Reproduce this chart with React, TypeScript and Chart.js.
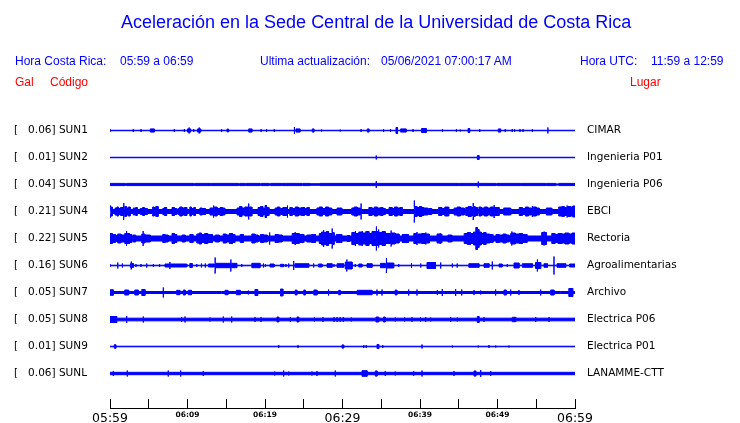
import React, { useEffect, useRef } from 'react';
import { Chart, registerables } from 'chart.js';

Chart.register(...registerables);

// ---------- data ----------
const CODES = ['SUN1', 'SUN2', 'SUN3', 'SUN4', 'SUN5', 'SUN6', 'SUN7', 'SUN8', 'SUN9', 'SUNL'];
const PEAK_GAL = [0.06, 0.01, 0.04, 0.21, 0.22, 0.16, 0.05, 0.05, 0.01, 0.06];
const PLACES = ['CIMAR', 'Ingenieria P01', 'Ingenieria P06', 'EBCI', 'Rectoria', 'Agroalimentarias', 'Archivo', 'Electrica P06', 'Electrica P01', 'LANAMME-CTT'];

// minutes after 05:59
const TICK_MINUTES = [0, 5, 10, 15, 20, 25, 30, 35, 40, 45, 50, 55, 60];
const TIME_LABELS = ['05:59', '06:09', '06:19', '06:29', '06:39', '06:49', '06:59'];

// background noise half-amplitude of every trace (relative units, 27 units = trace spacing)
const BASE_NOISE = [0.25, 0.25, 1.1, 2.0, 2.5, 0.3, 1.0, 1.35, 0.3, 1.2];

// events: [start minute, end minute, half-amplitude]
const SUN1_EVENTS = [[0, 0, 1.5], [3.0, 3.0, 1.5], [4.0, 4.0, 1.5], [5.2, 5.7, 1.6], [8.3, 8.3, 1.5], [9.6, 9.6, 1.5], [10.0, 10.2, 1.6], [10.2, 10.2, 3], [10.25, 10.4, 1.6], [10.8, 10.8, 1.5], [11.3, 11.5, 1.6], [11.5, 11.5, 3], [11.55, 11.7, 1.6], [14.4, 14.4, 1.5], [15.1, 15.3, 1.4], [17.9, 18.3, 1.6], [19.5, 19.5, 1.5], [20.2, 20.2, 1.5], [21.2, 21.2, 1.5], [23.8, 23.8, 3.5], [24.0, 24.5, 1.6], [26.1, 26.3, 1.6], [27.3, 27.3, 1], [29.7, 29.7, 1], [32.4, 32.4, 1.5], [33.2, 33.4, 1.6], [35.3, 35.3, 1.5], [36.2, 36.2, 1.5], [36.9, 37.1, 3], [37.5, 38.2, 1.6], [39.1, 39.1, 1.5], [40.2, 40.8, 2], [42.9, 42.9, 1.5], [44.7, 44.7, 1.5], [45.2, 45.2, 1], [46.2, 46.4, 2], [47.7, 47.7, 1.5], [50.1, 50.4, 1.6], [51.0, 51.0, 1.5], [51.9, 51.9, 1.5], [52.2, 52.2, 1.5], [52.9, 52.9, 1.5], [53.3, 53.3, 1.5], [54.5, 54.5, 1.5], [56.5, 56.5, 3]];
const SUN2_EVENTS = [[34.36, 34.36, 2], [47.4, 47.6, 2]];
const SUN3_EVENTS = [[1.94, 2.1, 0.6], [10.75, 10.9, 0.6], [13.0, 13.1, 0.6], [16.55, 16.7, 0.6], [17.4, 17.5, 0.6], [19.35, 19.5, 0.6], [20.5, 20.7, 0.6], [22.1, 22.2, 0.6], [24.77, 24.9, 0.6], [25.85, 27.1, 0.8], [34.36, 34.36, 3.5], [45.0, 45.1, 0.6], [47.52, 47.52, 3], [49.77, 49.9, 0.6], [53.0, 53.1, 0.6], [56.2, 56.3, 0.6], [57.5, 57.9, 0.6]];
const SUN4_EVENTS = [[0, 0.1, 6], [0.1, 0.3, 4.5], [0.65, 0.9, 3.5], [0.9, 1.1, 4.5], [1.1, 1.35, 3], [1.35, 1.7, 4], [1.8, 1.8, 8.5], [1.9, 2.1, 5], [2.1, 2.35, 3.5], [2.35, 2.6, 4.5], [3.0, 3.2, 3.5], [3.3, 3.5, 4], [3.9, 4.2, 3], [4.2, 4.4, 4], [4.5, 4.8, 3], [5.5, 5.7, 4.5], [5.7, 5.9, 3.5], [5.9, 6.2, 5], [6.8, 7.0, 3], [7.0, 7.3, 4], [8.0, 8.3, 4], [8.3, 8.6, 3], [8.8, 9.0, 3], [9.0, 9.3, 4.5], [9.3, 9.6, 3.5], [9.6, 9.9, 4], [10.3, 10.5, 4.5], [10.5, 10.8, 3], [10.8, 11.0, 4], [11.6, 11.9, 3.5], [12.0, 12.3, 3], [12.9, 13.3, 3.5], [13.4, 13.4, 6], [13.5, 13.8, 4.5], [13.8, 14.2, 3], [14.2, 14.5, 4], [14.5, 14.8, 3.5], [16.4, 16.7, 3.5], [16.7, 17.0, 5], [17.0, 17.4, 3.5], [17.4, 17.8, 4.5], [17.9, 17.9, 8], [18.0, 18.3, 4.5], [19.1, 19.4, 4], [19.4, 19.7, 5], [19.7, 19.9, 3.5], [20.0, 20.2, 6], [20.2, 20.5, 4], [21.3, 21.6, 3.5], [21.6, 21.9, 4.5], [22.0, 22.3, 3], [22.3, 22.8, 4], [22.9, 22.9, 6], [23.2, 23.5, 4], [23.5, 23.9, 3], [23.9, 24.3, 4.5], [24.3, 24.7, 3.5], [24.7, 25.1, 4], [25.1, 25.4, 3], [25.4, 25.7, 4], [26.7, 27.0, 3.5], [27.0, 27.4, 4.5], [27.4, 27.8, 3], [27.8, 28.2, 4.5], [28.2, 28.6, 3.5], [29.3, 29.9, 3.5], [31.2, 31.5, 3.5], [31.5, 31.9, 4.5], [31.9, 32.3, 3.5], [32.4, 32.4, 8], [33.4, 33.8, 4], [33.8, 34.1, 3], [34.1, 34.5, 4.5], [34.5, 34.9, 3.5], [34.9, 35.2, 4], [35.2, 35.5, 3], [36.0, 36.4, 4], [36.4, 36.7, 3], [36.7, 37.1, 4.5], [37.1, 37.4, 3.5], [37.4, 37.7, 4], [39.25, 39.25, 11], [39.3, 39.6, 5], [39.6, 39.9, 4], [39.9, 40.2, 5], [40.2, 40.5, 4], [40.6, 41.0, 3.5], [41.1, 41.5, 3], [42.4, 42.8, 4], [42.8, 43.2, 3], [43.2, 43.7, 4.5], [44.4, 44.8, 3.5], [44.8, 45.2, 4.5], [45.2, 45.7, 3.5], [45.9, 46.2, 4], [46.2, 46.6, 5], [46.6, 46.8, 4], [46.85, 46.85, 8.5], [46.9, 47.1, 5], [47.1, 47.4, 4], [47.6, 47.9, 4.5], [47.9, 48.3, 3.5], [48.3, 48.7, 4.5], [48.7, 49.1, 3.5], [49.1, 49.5, 4.5], [49.55, 49.55, 6.5], [49.6, 50.2, 4], [50.8, 51.7, 3.5], [52.8, 53.2, 4], [53.2, 53.6, 3], [53.6, 54.0, 4.5], [54.0, 54.4, 3.5], [54.5, 54.5, 5.5], [54.6, 55.0, 4.5], [55.0, 55.4, 3.5], [56.3, 57.0, 3.5], [57.9, 58.3, 4.5], [58.3, 58.6, 5], [58.6, 58.9, 4], [58.97, 58.97, 6], [59.0, 59.4, 5], [59.4, 59.7, 4.5], [59.7, 60, 5.5]];
const SUN5_EVENTS = [[0, 0.3, 5], [0.3, 0.7, 4], [0.7, 1.0, 3], [1.0, 1.4, 4.5], [1.4, 1.9, 3.5], [1.9, 2.1, 5], [2.15, 2.15, 7.5], [2.2, 2.5, 5], [2.5, 2.8, 4], [3.0, 3.3, 3.5], [4.1, 4.2, 4.5], [4.26, 4.26, 7.5], [4.3, 4.5, 4.5], [4.6, 5.2, 3.5], [6.8, 7.1, 4], [7.1, 7.5, 3.5], [8.0, 8.3, 5], [8.3, 8.6, 4], [9.3, 9.7, 3.5], [10.3, 10.7, 4], [11.2, 11.5, 4.5], [11.5, 11.8, 5.5], [11.8, 12.2, 4], [12.2, 12.6, 5], [12.6, 13.2, 4], [13.6, 14.1, 3.5], [14.6, 15.0, 4.5], [15.0, 15.4, 3.5], [15.4, 15.8, 5], [15.8, 16.1, 4], [16.8, 17.2, 4], [18.3, 18.7, 4.5], [18.7, 19.1, 3.5], [19.4, 19.8, 4], [19.8, 20.3, 3.5], [20.6, 20.6, 6], [21.3, 21.7, 4], [21.7, 22.2, 3.5], [23.5, 23.9, 5], [23.9, 23.9, 6.5], [24.0, 24.4, 5], [24.4, 25.0, 4], [25.4, 26.0, 3.5], [26.0, 26.5, 4], [27.0, 27.3, 5], [27.3, 27.5, 6.5], [27.57, 27.57, 8.5], [27.6, 27.9, 6], [27.9, 28.2, 7], [28.2, 28.6, 5], [28.65, 28.65, 10], [28.7, 28.9, 6], [29.2, 29.9, 4], [30.6, 30.9, 3], [31.2, 31.6, 6], [31.65, 31.65, 7.5], [31.7, 32.1, 5], [32.1, 32.5, 6.5], [32.52, 32.52, 7.5], [32.6, 33.0, 5.5], [33.0, 33.4, 7], [33.4, 33.8, 5], [33.8, 34.3, 7], [34.36, 34.36, 12], [34.4, 34.6, 7], [34.67, 34.67, 9], [34.7, 35.1, 6], [35.1, 35.5, 7], [35.5, 36.0, 5], [36.0, 36.2, 5], [36.26, 36.26, 8], [36.3, 36.8, 5.5], [36.8, 37.3, 4.5], [37.7, 38.5, 4], [39.2, 39.6, 5], [39.61, 39.61, 6.5], [39.7, 40.2, 4.5], [40.2, 40.7, 5], [40.77, 40.77, 6], [40.8, 41.2, 4.5], [42.2, 42.5, 4.5], [42.6, 42.6, 5.5], [42.6, 42.8, 4.5], [43.6, 44.1, 3.5], [45.7, 46.1, 5], [46.1, 46.5, 6], [46.5, 46.9, 5], [46.9, 47.2, 6.5], [47.2, 47.4, 11], [47.4, 47.6, 9], [47.6, 47.9, 6.5], [47.9, 48.2, 5], [48.2, 48.5, 6], [48.5, 49.0, 4.5], [49.0, 49.4, 4], [49.8, 50.2, 4], [50.2, 50.7, 3.5], [50.7, 51.1, 4.5], [51.1, 51.5, 3.5], [51.7, 51.8, 5], [51.87, 51.87, 7], [51.9, 52.3, 5.5], [52.3, 52.8, 4.5], [52.8, 53.2, 5], [53.2, 53.8, 4], [55.7, 55.95, 6], [56.0, 56.0, 7], [56.05, 56.3, 6], [57.0, 57.4, 5], [57.4, 57.8, 4], [57.8, 58.3, 5], [58.3, 58.7, 4.5], [58.7, 59.2, 5.5], [59.2, 59.6, 4.5], [59.6, 60, 5.5]];
const SUN6_EVENTS = [[0, 0, 1.5], [1.0, 1.0, 3], [1.6, 1.6, 2], [2.6, 2.7, 2], [2.71, 2.71, 4], [2.8, 3.0, 2], [3.35, 3.35, 1.5], [4.0, 4.0, 1.5], [4.74, 4.74, 2], [5.6, 5.6, 1.5], [6.4, 6.4, 1.5], [7.1, 7.7, 1.5], [7.74, 7.74, 3.5], [7.8, 9.9, 1.5], [10.3, 10.6, 2], [11.2, 11.2, 1.5], [11.8, 11.8, 2], [12.3, 12.3, 2], [12.7, 13.5, 1.5], [13.55, 13.55, 8], [13.6, 15.1, 2.2], [15.2, 15.55, 2.2], [15.61, 15.61, 6], [15.7, 16.35, 2.2], [17.0, 17.0, 1.5], [18.3, 19.35, 2.2], [19.8, 19.8, 2], [20.0, 20.1, 1.5], [20.65, 21.16, 1.5], [22.0, 22.4, 1.2], [22.7, 22.7, 1.5], [23.06, 23.06, 2], [23.7, 23.7, 4.5], [23.87, 25.64, 1.8], [26.28, 26.28, 2], [26.9, 27.35, 1.5], [28.0, 28.65, 1.8], [28.9, 28.9, 1.5], [29.3, 30.15, 1.8], [30.36, 30.5, 3.5], [30.58, 30.58, 6], [30.65, 31.23, 3.5], [31.65, 31.65, 1.5], [32.1, 32.5, 1.5], [33.16, 33.81, 1.8], [34.9, 35.5, 2.2], [35.65, 35.65, 7.5], [35.7, 36.6, 2.5], [37.25, 37.25, 1.5], [38.9, 38.9, 2.5], [40.1, 40.1, 2], [40.9, 42.0, 3], [42.67, 42.67, 3], [44.17, 44.17, 2], [44.8, 44.8, 2], [46.3, 47.6, 1.8], [48.26, 48.9, 1.8], [49.33, 49.33, 4], [50.2, 50.6, 1.5], [51.26, 51.26, 1.5], [52.13, 52.77, 2.5], [53.2, 54.5, 1.8], [54.9, 55.1, 3], [55.14, 55.14, 6], [55.2, 55.57, 3], [56.0, 56.43, 1.8], [57.29, 57.29, 9], [57.68, 58.8, 1.8], [59.3, 60, 1.5]];
const SUN7_EVENTS = [[0, 0.4, 2.8], [1.9, 2.4, 2.5], [3.2, 3.65, 2.5], [4.1, 4.5, 3], [6.88, 6.88, 5], [8.6, 9.0, 2.2], [9.46, 9.7, 2.5], [10.1, 10.5, 2.2], [13.8, 14.4, 1], [14.84, 15.2, 2.2], [16.3, 16.8, 2.2], [17.85, 17.85, 2], [18.7, 19.05, 3], [19.6, 20.0, 1], [22.0, 22.3, 3.5], [23.9, 24.1, 2.5], [25.0, 25.2, 2.5], [26.3, 26.7, 2.5], [28.2, 28.2, 3], [29.5, 29.7, 2.2], [31.9, 33.8, 2.2], [34.45, 34.45, 3], [35.1, 35.1, 3], [36.8, 37.0, 2.5], [38.54, 38.54, 3], [39.61, 39.61, 3], [42.24, 42.24, 2.5], [42.88, 42.88, 3.5], [44.6, 44.6, 3.5], [45.38, 45.38, 3], [46.97, 46.97, 2.5], [47.83, 47.83, 2], [49.76, 49.76, 3], [50.84, 51.14, 2.5], [51.7, 51.7, 3], [52.77, 52.77, 2.5], [55.57, 55.57, 3], [56.86, 57.29, 2.5], [57.4, 58.1, 1], [59.2, 59.7, 4]];
const SUN8_EVENTS = [[0, 0.86, 3], [2.15, 2.15, 3.5], [4.3, 4.3, 3], [9.25, 9.25, 2.5], [9.68, 9.68, 3], [12.9, 12.9, 2], [14.62, 14.62, 3], [15.7, 15.7, 3], [18.71, 18.71, 2.5], [19.48, 19.48, 2.5], [21.55, 21.77, 2.5], [23.27, 23.27, 2.5], [24.13, 24.35, 2.5], [26.37, 26.37, 2], [27.48, 27.48, 2.5], [28.9, 28.9, 2.5], [29.3, 29.3, 2.5], [29.7, 29.7, 2.5], [30.1, 30.1, 2.5], [31.14, 31.14, 2], [34.32, 34.67, 2.5], [35.3, 35.52, 2.5], [36.81, 36.81, 2], [38.02, 38.02, 2], [38.97, 38.97, 2.5], [40.06, 40.06, 2], [40.73, 40.73, 2.5], [41.38, 41.38, 2], [43.96, 43.96, 2.5], [44.81, 44.81, 2], [47.39, 47.61, 3], [48.26, 48.26, 2.5], [51.9, 52.35, 2.2], [54.93, 54.93, 2.5], [56.65, 56.65, 2.5]];
const SUN9_EVENTS = [[0.55, 0.74, 1.8], [21.77, 21.77, 1.5], [24.26, 24.26, 1.5], [29.94, 30.15, 1.6], [32.74, 32.74, 1.5], [33.07, 33.07, 1.5], [34.45, 34.67, 2], [35.19, 35.19, 1.5], [40.26, 40.26, 2], [44.17, 44.17, 1], [47.52, 47.52, 1], [48.9, 48.9, 1.5], [49.77, 49.77, 1], [51.48, 51.48, 1]];
const SUNL_EVENTS = [[0.43, 0.43, 2.5], [2.23, 2.23, 3], [7.52, 7.52, 3], [9.12, 9.12, 3], [12.04, 12.04, 2.5], [21.25, 21.25, 2], [22.41, 22.41, 3], [23.06, 23.06, 2], [26.06, 26.06, 2], [26.71, 26.71, 2.5], [29.07, 29.07, 3], [32.52, 33.16, 2.8], [34.23, 34.45, 2.6], [35.52, 35.52, 2.5], [36.81, 36.81, 2], [39.18, 39.18, 2.5], [40.26, 40.26, 3], [44.39, 44.39, 2.5], [46.97, 47.19, 2.6], [47.83, 47.83, 3.5], [49.12, 49.12, 2.5]];

const EVENTS = [SUN1_EVENTS, SUN2_EVENTS, SUN3_EVENTS, SUN4_EVENTS, SUN5_EVENTS, SUN6_EVENTS, SUN7_EVENTS, SUN8_EVENTS, SUN9_EVENTS, SUNL_EVENTS];

// ---------- layout / style ----------
const UNITS_PER_TRACE = 27;
const BLUE = '#0000ff';
const TICK_LEN = 10;
const Y_MIN = -1.0185;
const Y_MAX = 9.944;

const LEFT_LABELS = CODES.map((c, i) => `[   ${PEAK_GAL[i].toFixed(2)}] ${c}`);

function buildTrace(i: number) {
  const base = BASE_NOISE[i] / UNITS_PER_TRACE;
  const upper: { x: number; y: number }[] = [{ x: 0, y: i - base }];
  for (const [t0, t1, a] of EVENTS[i]) {
    const amp = a / UNITS_PER_TRACE;
    upper.push({ x: t0, y: i - base }, { x: t0, y: i - amp }, { x: t1, y: i - amp }, { x: t1, y: i - base });
  }
  upper.push({ x: 60, y: i - base });
  const lower = upper.slice().reverse().map((p) => ({ x: p.x, y: 2 * i - p.y }));
  return upper.concat(lower);
}

const axisLinePlugin = {
  id: 'axisLine',
  afterDraw(chart: any) {
    const xs = chart.scales.x;
    const ctx = chart.ctx;
    const y = Math.round(xs.top + TICK_LEN) - 0.5;
    ctx.save();
    ctx.strokeStyle = '#000';
    ctx.lineWidth = 1;
    ctx.beginPath();
    ctx.moveTo(xs.getPixelForValue(0), y);
    ctx.lineTo(xs.getPixelForValue(60) + 1, y);
    ctx.stroke();
    ctx.restore();
  },
};

const textStyle: React.CSSProperties = {
  position: 'absolute',
  fontFamily: '"Liberation Sans", Arial, sans-serif',
  fontSize: 12,
  lineHeight: '12px',
  whiteSpace: 'pre',
  color: BLUE,
  margin: 0,
};

export default function App() {
  const ref = useRef<HTMLCanvasElement | null>(null);
  useEffect(() => {
    if (!ref.current) return;
    const datasets = CODES.map((c, i) => ({
      type: 'line' as const,
      label: c,
      data: buildTrace(i),
      borderColor: BLUE,
      backgroundColor: BLUE,
      borderWidth: 1,
      pointRadius: 0,
      tension: 0,
      fill: 'shape' as any,
      yAxisID: 'y',
    }));
    const yTicks = {
      autoSkip: false,
      color: '#000',
      font: { family: '"DejaVu Sans"', size: 10.5 },
    };
    const chart = new Chart(ref.current, {
      type: 'line',
      data: { datasets },
      options: {
        animation: false,
        responsive: false,
        devicePixelRatio: 1,
        events: [],
        layout: { padding: { top: 103, left: 14, right: 0, bottom: 0 } },
        plugins: { legend: { display: false }, tooltip: { enabled: false }, title: { display: false } },
        scales: {
          x: {
            type: 'linear',
            min: 0,
            max: 60,
            position: 'bottom',
            afterBuildTicks: (s: any) => {
              s.ticks = TICK_MINUTES.map((v) => ({ value: v }));
            },
            afterFit: (s: any) => {
              s.height = 24;
            },
            grid: { drawOnChartArea: false, drawTicks: true, tickLength: TICK_LEN, color: '#000', lineWidth: 1 },
            border: { display: false },
            ticks: {
              autoSkip: false,
              maxRotation: 0,
              padding: 2,
              color: '#000',
              font: (c: any) => {
                const v = c.tick ? c.tick.value : 0;
                return v % 30 === 0
                  ? { family: '"DejaVu Sans"', size: 12.5 }
                  : { family: '"DejaVu Sans"', size: 7.5, weight: 'bold' };
              },
              callback: (v: any) => (v % 10 === 0 ? TIME_LABELS[v / 10] : ''),
            },
          },
          y: {
            type: 'linear',
            position: 'left',
            reverse: true,
            min: Y_MIN,
            max: Y_MAX,
            afterBuildTicks: (s: any) => {
              s.ticks = CODES.map((_, i) => ({ value: i }));
            },
            afterFit: (s: any) => {
              s.width = 96;
            },
            grid: { display: false, drawTicks: false },
            border: { display: false },
            ticks: { ...yTicks, crossAlign: 'far', padding: 0, callback: (v: any) => LEFT_LABELS[v] },
          },
          y2: {
            type: 'linear',
            position: 'right',
            reverse: true,
            min: Y_MIN,
            max: Y_MAX,
            afterBuildTicks: (s: any) => {
              s.ticks = CODES.map((_, i) => ({ value: i }));
            },
            afterFit: (s: any) => {
              s.width = 165;
            },
            grid: { display: false, drawTicks: false },
            border: { display: false },
            ticks: { ...yTicks, padding: 12, callback: (v: any) => PLACES[v] },
          },
        },
      },
      plugins: [axisLinePlugin],
    });
    return () => chart.destroy();
  }, []);

  return (
    <div style={{ position: 'fixed', left: 0, top: 0, width: 740, height: 423, background: '#fff' }}>
      <canvas ref={ref} width={740} height={423} style={{ position: 'absolute', left: 0, top: 0, width: 740, height: 423 }} />
      <div style={{ ...textStyle, left: 121, top: 13, fontSize: 18, lineHeight: '18px' }}>
        Aceleración en la Sede Central de la Universidad de Costa Rica
      </div>
      <div style={{ ...textStyle, left: 15, top: 55 }}>Hora Costa Rica:</div>
      <div style={{ ...textStyle, left: 120, top: 55 }}>05:59 a 06:59</div>
      <div style={{ ...textStyle, left: 260, top: 55 }}>Ultima actualización:</div>
      <div style={{ ...textStyle, left: 381, top: 55 }}>05/06/2021 07:00:17 AM</div>
      <div style={{ ...textStyle, left: 580, top: 55 }}>Hora UTC:</div>
      <div style={{ ...textStyle, left: 651, top: 55 }}>11:59 a 12:59</div>
      <div style={{ ...textStyle, left: 15, top: 76, color: '#ff0000' }}>Gal</div>
      <div style={{ ...textStyle, left: 50, top: 76, color: '#ff0000' }}>Código</div>
      <div style={{ ...textStyle, left: 630, top: 76, color: '#ff0000' }}>Lugar</div>
    </div>
  );
}
